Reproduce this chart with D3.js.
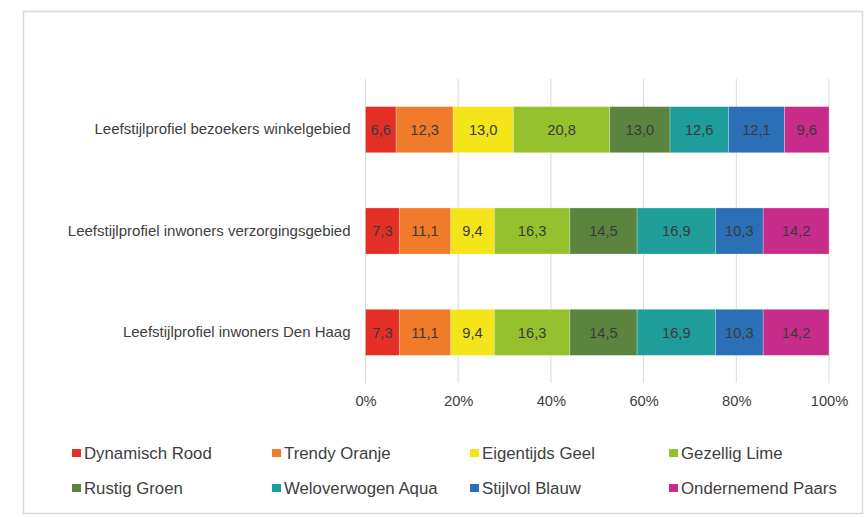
<!DOCTYPE html>
<html>
<head>
<meta charset="utf-8">
<script src="https://cdn.jsdelivr.net/npm/d3@7"></script>
<style>
	body { margin: 0; background: #fff; }
	text { font-family: "Liberation Sans", Arial, sans-serif; }
</style>
</head>
<body>
<div id="chart"></div>
<script>
// stacked 100% bar chart of the lifestyle profiles

// categories (top to bottom)
const categories = [
	"Leefstijlprofiel bezoekers winkelgebied",
	"Leefstijlprofiel inwoners verzorgingsgebied",
	"Leefstijlprofiel inwoners Den Haag"
];

// series names and colours
const seriesNames = ["Dynamisch Rood", "Trendy Oranje", "Eigentijds Geel", "Gezellig Lime",
	"Rustig Groen", "Weloverwogen Aqua", "Stijlvol Blauw", "Ondernemend Paars"];
const seriesColors = ["#e42f27", "#f07b2a", "#f4e51a", "#96c12f",
	"#5b853f", "#1f9d9a", "#2b70b6", "#c72c8a"];

// values per category, one per series (percentages)
const bezoekersWinkelgebied = [6.6, 12.3, 13.0, 20.8, 13.0, 12.6, 12.1, 9.6];
const inwonersVerzorgingsgebied = [7.3, 11.1, 9.4, 16.3, 14.5, 16.9, 10.3, 14.2];
const inwonersDenHaag = [7.3, 11.1, 9.4, 16.3, 14.5, 16.9, 10.3, 14.2];

const xTicks = [0, 20, 40, 60, 80, 100];

// build table for d3.stack
const rows = [bezoekersWinkelgebied, inwonersVerzorgingsgebied, inwonersDenHaag];
const table = categories.map((c, i) => {
	const row = { category: c };
	seriesNames.forEach((s, j) => row[s] = rows[i][j]);
	return row;
});

const W = 868, H = 517;
const plot = { left: 365.5, right: 829, top: 79, bottom: 383 };

const svg = d3.select("#chart")
	.append("svg")
	.attr("width", W)
	.attr("height", H);

// outer border
svg.append("rect")
	.attr("x", 23.5)
	.attr("y", 11.5)
	.attr("width", 839)
	.attr("height", 502)
	.attr("fill", "none")
	.attr("stroke", "#d9d9d9")
	.attr("stroke-width", 1.5);

const x = d3.scaleLinear()
	.domain([0, 100])
	.range([plot.left, plot.right]);

const y = d3.scaleBand()
	.domain(categories)
	.range([plot.top, plot.bottom])
	.paddingInner(0.545)
	.paddingOuter(0.2725);

// gridlines
svg.append("g")
	.selectAll("line")
	.data(xTicks)
	.join("line")
		.attr("x1", d => x(d))
		.attr("x2", d => x(d))
		.attr("y1", plot.top)
		.attr("y2", plot.bottom)
		.attr("stroke", "#d9d9d9")
		.attr("stroke-width", 1);

// stacked bars
const stacked = d3.stack().keys(seriesNames)(table);

const layers = svg.append("g")
	.selectAll("g")
	.data(stacked)
	.join("g")
		.attr("fill", (d, i) => seriesColors[i]);

layers.selectAll("rect")
	.data(d => d)
	.join("rect")
		.attr("x", d => x(d[0]))
		.attr("y", d => y(d.data.category))
		.attr("width", d => x(d[1]) - x(d[0]))
		.attr("height", y.bandwidth())
		.attr("stroke", "#ffffff")
		.attr("stroke-opacity", 0.35)
		.attr("stroke-width", 0.75);

// data labels
layers.selectAll("text")
	.data(d => d.map(v => ({ v: v, val: v[1] - v[0] })))
	.join("text")
		.attr("x", d => (x(d.v[0]) + x(d.v[1])) / 2)
		.attr("y", d => y(d.v.data.category) + y.bandwidth() / 2)
		.attr("dy", "0.36em")
		.attr("text-anchor", "middle")
		.attr("fill", "#3a3a3a")
		.style("font-size", "14.7px")
		.text(d => d3.format(".1f")(d.val).replace(".", ","));

// x axis tick labels
svg.append("g")
	.attr("transform", `translate(0,${plot.bottom})`)
	.call(d3.axisBottom(x).tickValues(xTicks).tickFormat(d => d + "%").tickSize(0).tickPadding(13))
	.call(g => g.select(".domain").remove())
	.call(g => g.selectAll("text")
		.attr("fill", "#404040")
		.style("font-family", "'Liberation Sans', Arial, sans-serif")
		.style("font-size", "14.7px"));

// category labels
svg.append("g")
	.attr("transform", `translate(${plot.left},0)`)
	.call(d3.axisLeft(y).tickSize(0).tickPadding(15))
	.call(g => g.select(".domain").remove())
	.call(g => g.selectAll("text")
		.attr("fill", "#404040")
		.style("font-family", "'Liberation Sans', Arial, sans-serif")
		.style("font-size", "15px"));

// legend
const legendX = [72, 272, 470, 669];
const legendY = [453, 488];

const legend = svg.append("g")
	.selectAll("g")
	.data(seriesNames)
	.join("g")
		.attr("transform", (d, i) => `translate(${legendX[i % 4]},${legendY[Math.floor(i / 4)]})`);

legend.append("rect")
	.attr("x", 0)
	.attr("y", -4)
	.attr("width", 9)
	.attr("height", 8)
	.attr("fill", (d, i) => seriesColors[i]);

legend.append("text")
	.attr("x", 12)
	.attr("dy", "0.36em")
	.attr("fill", "#404040")
	.style("font-size", "16.8px")
	.text(d => d);
</script>
</body>
</html>
